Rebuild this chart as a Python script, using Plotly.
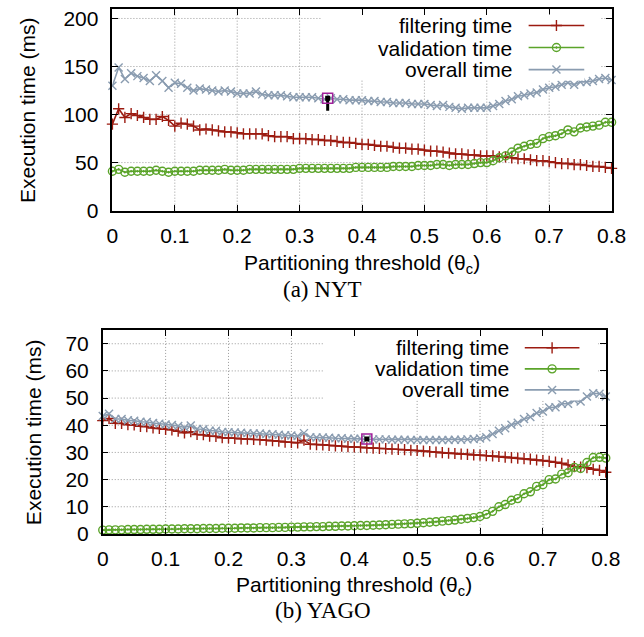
import plotly.graph_objects as go

# ---------------- data ----------------
thresholds = [0.00, 0.01, 0.02, 0.03, 0.04, 0.05, 0.06, 0.07, 0.08, 0.09,
              0.10, 0.11, 0.12, 0.13, 0.14, 0.15, 0.16, 0.17, 0.18, 0.19,
              0.20, 0.21, 0.22, 0.23, 0.24, 0.25, 0.26, 0.27, 0.28, 0.29,
              0.30, 0.31, 0.32, 0.33, 0.34, 0.35, 0.36, 0.37, 0.38, 0.39,
              0.40, 0.41, 0.42, 0.43, 0.44, 0.45, 0.46, 0.47, 0.48, 0.49,
              0.50, 0.51, 0.52, 0.53, 0.54, 0.55, 0.56, 0.57, 0.58, 0.59,
              0.60, 0.61, 0.62, 0.63, 0.64, 0.65, 0.66, 0.67, 0.68, 0.69,
              0.70, 0.71, 0.72, 0.73, 0.74, 0.75, 0.76, 0.77, 0.78, 0.79,
              0.80]

nyt_filtering = [90, 106, 97, 101, 99, 97, 95, 95, 98, 94,
                 88, 91, 90, 88, 84, 85, 84, 83, 82, 82,
                 81, 80, 80, 80, 80, 78, 77, 77, 77, 75,
                 75, 75, 74, 74, 73, 73, 72, 71, 71, 70,
                 69, 69, 68, 67, 67, 66, 65, 65, 64, 64,
                 63, 62, 62, 61, 60, 59, 59, 58, 58, 57,
                 57, 57, 56, 56, 55, 54, 54, 53, 52, 52,
                 51, 50, 49, 49, 48, 48, 47, 46, 46, 45,
                 44]
nyt_validation = [41, 43, 40, 41, 41, 41, 41, 42, 41, 40,
                  41, 41, 41, 41, 42, 42, 42, 42, 43, 42,
                  42, 42, 43, 43, 43, 43, 43, 43, 43, 43,
                  44, 44, 44, 44, 44, 44, 44, 44, 44, 45,
                  45, 45, 45, 45, 45, 46, 46, 46, 46, 47,
                  47, 47, 48, 48, 47, 48, 48, 48, 49, 50,
                  50, 52, 55, 57, 61, 65, 67, 69, 70, 75,
                  77, 78, 80, 84, 82, 86, 87, 88, 89, 92,
                  92]
nyt_overall = [130, 149, 137, 143, 140, 138, 135, 141, 135, 128,
               133, 132, 128, 125, 127, 126, 125, 124, 125, 124,
               122, 122, 122, 124, 121, 120, 120, 120, 119, 118,
               118, 118, 118, 117, 116, 117, 116, 116, 115, 115,
               115, 114, 114, 113, 113, 112, 112, 112, 111, 111,
               111, 110, 109, 110, 108, 107, 106, 107, 107, 107,
               107, 109, 111, 114, 116, 119, 120, 122, 123, 126,
               128, 129, 131, 133, 131, 134, 134, 135, 137, 138,
               136]
nyt_best_x = [0.345]
nyt_best_y = [117]
nyt_stem_y = [117, 104]

yago_filtering = [41.7, 42.5, 40.7, 40.7, 40.2, 40.1, 39.6, 39.5, 39.0, 38.8,
                  38.5, 38.3, 37.8, 37.2, 37.6, 36.6, 36.5, 36.0, 35.9, 35.4,
                  35.3, 35.2, 35.0, 34.9, 34.8, 34.7, 34.5, 34.3, 34.1, 33.8,
                  33.7, 33.5, 34.5, 33.0, 32.9, 32.8, 32.6, 32.4, 32.3, 32.1,
                  32.0, 31.9, 31.7, 31.6, 31.5, 31.4, 31.2, 31.1, 31.0, 30.8,
                  30.7, 30.5, 30.3, 30.1, 29.9, 29.7, 29.6, 29.4, 29.3, 29.1,
                  29.0, 28.8, 28.7, 28.5, 28.3, 28.1, 27.9, 27.7, 27.5, 27.2,
                  27.0, 26.7, 26.4, 26.0, 25.4, 24.8, 24.6, 24.4, 23.8, 23.4,
                  22.7]
yago_validation = [1.4, 1.5, 1.5, 1.5, 1.6, 1.6, 1.6, 1.7, 1.7, 1.7,
                   1.8, 1.8, 1.8, 1.9, 1.9, 1.9, 2.0, 2.0, 2.0, 2.1,
                   2.1, 2.1, 2.2, 2.2, 2.2, 2.3, 2.3, 2.3, 2.4, 2.4,
                   2.5, 2.5, 2.6, 2.6, 2.7, 2.7, 2.8, 2.8, 2.9, 2.9,
                   3.0, 3.1, 3.1, 3.2, 3.3, 3.4, 3.5, 3.6, 3.7, 3.8,
                   3.9, 4.1, 4.3, 4.5, 4.7, 4.9, 5.1, 5.4, 5.7, 6.0,
                   6.4, 7.2, 8.3, 10.0, 10.8, 12.4, 13.0, 14.8, 15.5, 17.5,
                   18.1, 20.0, 20.2, 22.0, 22.5, 24.5, 24.1, 26.3, 28.1, 28.2,
                   27.9]
yago_overall = [43.4, 44.2, 42.3, 42.3, 41.8, 41.7, 41.3, 41.2, 40.8, 40.6,
                40.3, 40.1, 39.7, 39.2, 39.9, 38.6, 38.5, 38.0, 38.0, 37.5,
                37.4, 37.3, 37.2, 37.1, 37.0, 37.0, 36.8, 36.7, 36.5, 36.3,
                36.2, 36.0, 37.1, 35.6, 35.5, 35.5, 35.4, 35.2, 35.2, 35.0,
                35.0, 35.0, 34.8, 34.8, 34.8, 34.8, 34.7, 34.7, 34.7, 34.6,
                34.6, 34.6, 34.6, 34.6, 34.6, 34.6, 34.7, 34.7, 34.8, 34.9,
                35.1, 35.6, 36.8, 38.0, 38.9, 40.2, 40.9, 42.3, 43.0, 44.5,
                45.1, 46.5, 46.6, 47.9, 47.9, 49.2, 48.7, 50.6, 51.8, 51.6,
                50.6]
yago_best_x = [0.42]
yago_best_y = [34.9]

series_names = ["filtering time", "validation time", "overall time"]
x_ticks = [0, 0.1, 0.2, 0.3, 0.4, 0.5, 0.6, 0.7, 0.8]
nyt_y_ticks = [0, 50, 100, 150, 200]
yago_y_ticks = [0, 10, 20, 30, 40, 50, 60, 70]
legend_rows = [1, 2, 3]
legend_span = [0, 1]
legend_mid = [0.5]

# ---------------- styles ----------------
W, H = 644, 637
C_FILT = "#9c1b10"
C_VAL = "#5ba42a"
C_OVR = "#8a9cb0"
colors = [C_FILT, C_VAL, C_OVR]
symbols = ["cross-thin", "circle-open-dot", "x-thin"]
SANS = "Liberation Sans, Arial, Helvetica, sans-serif"
SERIF = "Liberation Serif, Times New Roman, serif"
FS = 21
MS = 8
GRID = dict(color="#9a9a9a", width=1, dash="1px,2px")

X_RANGE = [0, 0.8]
NYT_Y_RANGE = [0, 210]
YAGO_Y_RANGE = [0, 75]

# pixel geometry of the two plot areas (left, right, top, bottom)
NYT_BOX = (110, 626, 7, 213)
YAGO_BOX = (100, 620, 335, 543)
# pixel geometry of the opaque key boxes (left, right, top, bottom)
NYT_KEY = (326, 614, 8, 79)
YAGO_KEY = (328, 612, 336, 406)


def px(x):
    return x / W


def py(y):
    return 1 - y / H


fig = go.Figure()


def add_series(x, ys, xa, ya):
    for name, y, c, s in zip(series_names, ys, colors, symbols):
        fig.add_trace(go.Scatter(
            x=x, y=y, mode="lines+markers", name=name, showlegend=False,
            xaxis=xa, yaxis=ya, cliponaxis=False,
            line=dict(color=c, width=1.6),
            marker=dict(symbol=s, size=MS, color=c, line=dict(color=c, width=1.4)),
        ))


add_series(thresholds, [nyt_filtering, nyt_validation, nyt_overall], "x", "y")
add_series(thresholds, [yago_filtering, yago_validation, yago_overall], "x2", "y2")

# best-threshold markers
fig.add_trace(go.Scatter(x=nyt_best_x * 2, y=nyt_stem_y, mode="lines", xaxis="x", yaxis="y",
                         line=dict(color="black", width=3), showlegend=False))
for bx, by, xa, ya in [(nyt_best_x, nyt_best_y, "x", "y"), (yago_best_x, yago_best_y, "x2", "y2")]:
    fig.add_trace(go.Scatter(x=bx, y=by, mode="markers", xaxis=xa, yaxis=ya, showlegend=False,
                             marker=dict(symbol="square-open", size=10, color="#a0209a",
                                         line=dict(color="#a0209a", width=1.5))))
    fig.add_trace(go.Scatter(x=bx, y=by, mode="markers", xaxis=xa, yaxis=ya, showlegend=False,
                             marker=dict(symbol="square", size=5, color="black")))

# manual gnuplot-like legends (text left, sample right)
legend_text_right = {"x3": 525, "x4": 522}
legend_text_rows = {"x3": [24, 47, 69], "x4": [353, 374, 396]}
for xa, ya in [("x3", "y3"), ("x4", "y4")]:
    for i, (row, c, s, name) in enumerate(zip(legend_rows, colors, symbols, series_names)):
        fig.add_trace(go.Scatter(x=legend_span, y=[row, row], mode="lines", xaxis=xa, yaxis=ya,
                                 showlegend=False, line=dict(color=c, width=1.6)))
        fig.add_trace(go.Scatter(x=legend_mid, y=[row], mode="markers", xaxis=xa, yaxis=ya,
                                 showlegend=False,
                                 marker=dict(symbol=s, size=MS, color=c, line=dict(color=c, width=1.4))))
        fig.add_annotation(x=px(legend_text_right[xa]), y=py(legend_text_rows[xa][i]),
                           xref="paper", yref="paper", text=name, showarrow=False,
                           xanchor="right", yanchor="middle",
                           font=dict(family=SANS, size=FS, color="black"))

axis_common = dict(
    showline=True, linecolor="black", linewidth=1.5, mirror="ticks",
    ticks="inside", ticklen=6, tickwidth=1.2, tickcolor="black",
    showgrid=False, zeroline=False,
    tickfont=dict(family=SANS, size=FS, color="black"),
    fixedrange=True,
)

l1, r1, t1, b1 = NYT_BOX
l2, r2, t2, b2 = YAGO_BOX
fig.update_layout(
    width=W, height=H, margin=dict(l=0, r=0, t=0, b=0),
    paper_bgcolor="white", plot_bgcolor="white",
    showlegend=False,
    xaxis=dict(axis_common, domain=[px(l1), px(r1)], range=X_RANGE, tickvals=x_ticks, anchor="y",
               ticklabelstandoff=5),
    yaxis=dict(axis_common, domain=[py(b1), py(t1)], range=NYT_Y_RANGE, tickvals=nyt_y_ticks,
               anchor="x", ticklabelstandoff=8),
    xaxis2=dict(axis_common, domain=[px(l2), px(r2)], range=X_RANGE, tickvals=x_ticks, anchor="y2",
                ticklabelstandoff=5),
    yaxis2=dict(axis_common, domain=[py(b2), py(t2)], range=YAGO_Y_RANGE, tickvals=yago_y_ticks,
                anchor="x2", ticklabelstandoff=8),
    xaxis3=dict(domain=[px(540), px(598)], range=[0, 1], visible=False, anchor="y3", fixedrange=True),
    yaxis3=dict(domain=[py(80.25), py(12.75)], range=[3.5, 0.5], visible=False, anchor="x3", fixedrange=True),
    xaxis4=dict(domain=[px(536), px(593)], range=[0, 1], visible=False, anchor="y4", fixedrange=True),
    yaxis4=dict(domain=[py(406.75), py(342.25)], range=[3.5, 0.5], visible=False, anchor="x4", fixedrange=True),
)

# dotted grid drawn as below-layer shapes, then the opaque key box on top of it
for xa, ya, yticks, box, key in [("x", "y", nyt_y_ticks, NYT_BOX, NYT_KEY),
                                  ("x2", "y2", yago_y_ticks, YAGO_BOX, YAGO_KEY)]:
    for xv in x_ticks[1:-1]:
        fig.add_shape(type="line", xref=xa, yref=ya + " domain", x0=xv, x1=xv, y0=0, y1=1,
                      line=GRID, layer="below")
    for yv in yticks[1:]:
        fig.add_shape(type="line", xref=xa + " domain", yref=ya, x0=0, x1=1, y0=yv, y1=yv,
                      line=GRID, layer="below")
    l, r, t, b = box
    kl, kr, kt, kb = key
    fig.add_shape(type="rect", xref=xa + " domain", yref=ya + " domain",
                  x0=(kl - l) / (r - l), x1=(kr - l) / (r - l),
                  y0=(b - kb) / (b - t), y1=(b - kt) / (b - t),
                  fillcolor="white", line=dict(width=0), layer="below")

# axis titles and captions
texts = [
    (px(23), py(110), "Execution time (ms)", -90, SANS, FS),
    (px(368), py(267), "Partitioning threshold (θ<sub>c</sub>)", 0, SANS, FS),
    (px(327), py(293), "(a) NYT", 0, SERIF, 23),
    (px(28), py(439), "Execution time (ms)", -90, SANS, FS),
    (px(360), py(596), "Partitioning threshold (θ<sub>c</sub>)", 0, SANS, FS),
    (px(328), py(621), "(b) YAGO", 0, SERIF, 23),
]
for x, y, t, ang, fam, fs in texts:
    fig.add_annotation(x=x, y=y, xref="paper", yref="paper", text=t, showarrow=False,
                       textangle=ang, xanchor="center", yanchor="middle",
                       font=dict(family=fam, size=fs, color="black"))

fig.write_html("out.html")
